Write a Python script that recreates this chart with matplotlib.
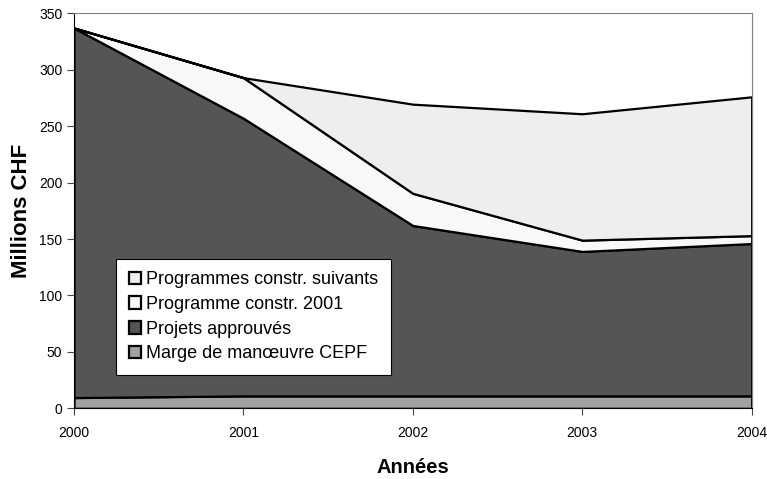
import numpy as np
import matplotlib
matplotlib.use('Agg')
import matplotlib.pyplot as plt

# values (millions CHF, stacked)
annees = [2000, 2001, 2002, 2003, 2004]
marge = [9.5, 11, 11, 11, 11]
projets = [327.5, 246, 151, 128, 135]
prog_2001 = [0, 36, 28.5, 10, 7]
prog_suivants = [0, 0, 79, 112, 123]

labels = ['Marge de manœuvre CEPF', 'Projets approuvés',
          'Programme constr. 2001', 'Programmes constr. suivants']
couleurs = ['#a2a2a2', '#555555', '#f8f8f8', '#eeeeee']

plt.rcParams['font.family'] = ['Liberation Sans', 'DejaVu Sans']

fig = plt.figure(figsize=(7.67, 4.79), dpi=100)
ax = fig.add_axes([0.0965, 0.1476, 0.8835, 0.8246])

polys = ax.stackplot(annees, marge, projets, prog_2001, prog_suivants,
                     colors=couleurs, edgecolor='black', linewidth=1.6,
                     labels=labels)

ax.set_xlim(2000, 2004)
ax.set_ylim(0, 350)
ax.set_xticks(annees)
ax.set_yticks(range(0, 351, 50))
ax.tick_params(axis='both', labelsize=10, direction='out', length=5,
               color='#444444')
ax.tick_params(axis='x', pad=8)
for s in ['top', 'right']:
    ax.spines[s].set_color('#808080')
for s in ['left', 'bottom']:
    ax.spines[s].set_color('black')

ax.set_ylabel('Millions CHF', fontsize=16, fontweight='bold', labelpad=5)
ax.set_xlabel('Années', fontsize=14.5, fontweight='bold', labelpad=13)

h, l = ax.get_legend_handles_labels()
leg = ax.legend(h[::-1], l[::-1], loc='lower left',
                bbox_to_anchor=(0.062, 0.084), fontsize=13,
                frameon=True, fancybox=False, framealpha=1,
                edgecolor='black', handlelength=0.7, handleheight=0.7,
                handletextpad=0.25, labelspacing=0.43, borderpad=0.7,
                borderaxespad=0)
leg.get_frame().set_linewidth(0.8)

fig.savefig('out.png', dpi=100)
